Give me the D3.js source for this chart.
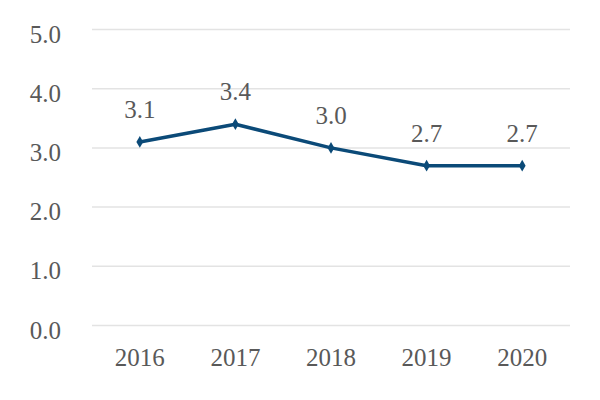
<!DOCTYPE html>
<html>
<head>
<meta charset="utf-8">
<script src="https://cdn.jsdelivr.net/npm/d3@7"></script>
<style>
  body { margin: 0; background: #fff; }
</style>
</head>
<body>
<div id="chart"></div>
<script>
const years = ["2016", "2017", "2018", "2019", "2020"];
const values = [3.1, 3.4, 3.0, 2.7, 2.7];
const yTicks = [0, 1, 2, 3, 4, 5];

const width = 600, height = 400;
const margin = { top: 29.5, right: 30, bottom: 74.5, left: 92 };
const font = "Liberation Serif";
const fontSize = "25px";

const svg = d3.select("#chart").append("svg")
    .attr("width", width)
    .attr("height", height)
    .attr("font-family", font)
    .attr("fill", "#595959");

const x = d3.scaleBand()
    .domain(years)
    .range([margin.left, width - margin.right]);

const y = d3.scaleLinear()
    .domain([0, 5])
    .range([height - margin.bottom, margin.top]);

// gridlines
svg.append("g")
    .selectAll("line")
    .data(yTicks)
    .enter().append("line")
    .attr("x1", margin.left)
    .attr("x2", width - margin.right)
    .attr("y1", d => y(d))
    .attr("y2", d => y(d))
    .attr("stroke", "#e3e3e3")
    .attr("stroke-width", 1.5);

// y labels
svg.append("g")
    .selectAll("text")
    .data(yTicks)
    .enter().append("text")
    .attr("x", 61)
    .attr("y", d => y(d) + 13)
    .attr("text-anchor", "end")
    .attr("font-size", fontSize)
    .text(d => d.toFixed(1));

// x labels
svg.append("g")
    .selectAll("text")
    .data(years)
    .enter().append("text")
    .attr("x", d => x(d) + x.bandwidth() / 2)
    .attr("y", 366)
    .attr("text-anchor", "middle")
    .attr("font-size", fontSize)
    .text(d => d);

const cx = (d, i) => x(years[i]) + x.bandwidth() / 2;

const line = d3.line()
    .x(cx)
    .y(d => y(d));

svg.append("path")
    .datum(values)
    .attr("d", line)
    .attr("fill", "none")
    .attr("stroke", "#0b4a78")
    .attr("stroke-width", 3.5)
    .attr("stroke-linejoin", "round");

svg.append("g")
    .selectAll("path")
    .data(values)
    .enter().append("path")
    .attr("transform", (d, i) => "translate(" + cx(d, i) + "," + y(d) + ")")
    .attr("d", d3.symbol().type(d3.symbolDiamond).size(40))
    .attr("fill", "#0b4a78");

// data labels
svg.append("g")
    .selectAll("text")
    .data(values)
    .enter().append("text")
    .attr("x", cx)
    .attr("y", d => y(d) - 24)
    .attr("text-anchor", "middle")
    .attr("font-size", fontSize)
    .text(d => d.toFixed(1));
</script>
</body>
</html>
